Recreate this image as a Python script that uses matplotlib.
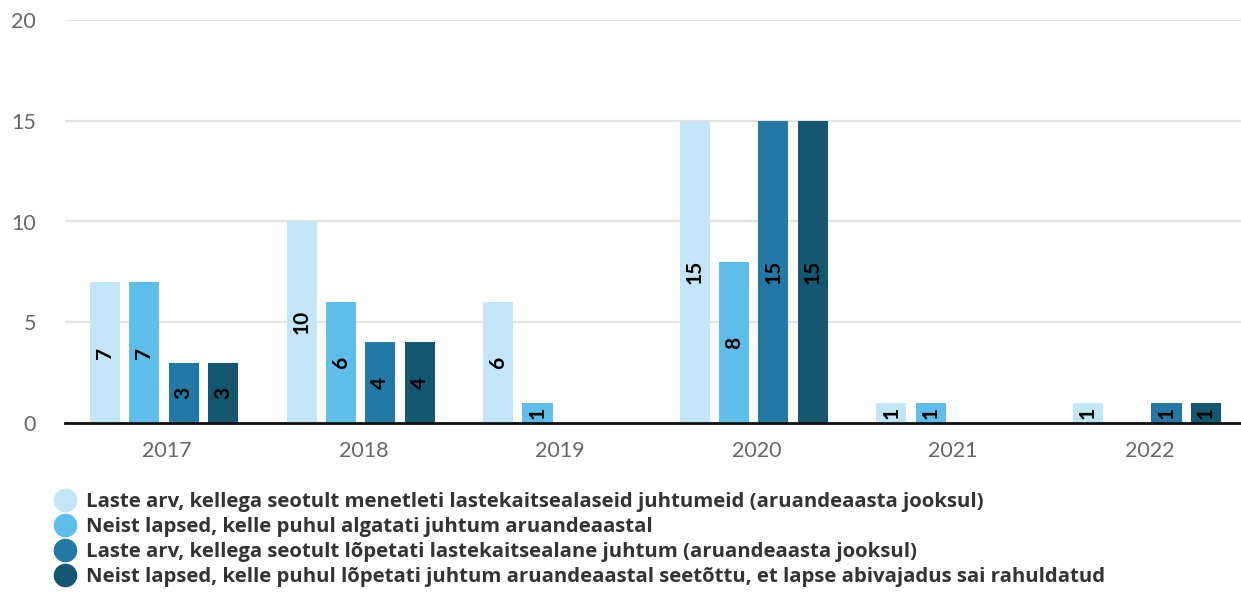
import matplotlib
matplotlib.use("Agg")
import matplotlib.pyplot as plt
from matplotlib.lines import Line2D
import numpy as np

plt.rcParams['font.family'] = ['Lato', 'DejaVu Sans']

years = ["2017", "2018", "2019", "2020", "2021", "2022"]
series_names = [
    "Laste arv, kellega seotult menetleti lastekaitsealaseid juhtumeid (aruandeaasta jooksul)",
    "Neist lapsed, kelle puhul algatati juhtum aruandeaastal",
    "Laste arv, kellega seotult lõpetati lastekaitsealane juhtum (aruandeaasta jooksul)",
    "Neist lapsed, kelle puhul lõpetati juhtum aruandeaastal seetõttu, et lapse abivajadus sai rahuldatud",
]
s1 = [7, 10, 6, 15, 1, 1]
s2 = [7, 6, 1, 8, 1, None]
s3 = [3, 4, None, 15, None, 1]
s4 = [3, 4, None, 15, None, 1]
colors = ["#c2e6f7", "#5fbde9", "#2478a6", "#155670"]
yticks = [0, 5, 10, 15, 20]

W, H = 1241, 596
fig = plt.figure(figsize=(W / 100, H / 100), dpi=100)
ax = fig.add_axes([65 / W, (H - 423) / H, (W - 65) / W, (423 - 20) / H])

x = np.arange(len(years))
offsets = [-0.3, -0.1, 0.1, 0.3]
width = 0.153
shift = -0.015
for vals, off, c in zip([s1, s2, s3, s4], offsets, colors):
    v = np.array([np.nan if a is None else a for a in vals], dtype=float)
    bars = ax.bar(x + off + shift, np.nan_to_num(v), width=width, color=c, zorder=3)
    for b, val in zip(bars, v):
        if np.isnan(val) or val == 0:
            continue
        ax.text(b.get_x() + b.get_width() / 2, val / 2, f"{int(val)}",
                rotation=90, ha="center", va="center", fontsize=15,
                fontweight="bold", color="black", zorder=4)

ax.set_xlim(-0.519, 5.464)
ax.set_ylim(0, 20)
ax.set_yticks(yticks)
ax.set_xticks(x)
ax.set_xticklabels(years)
ax.tick_params(axis="both", length=0, labelsize=15.5, labelcolor="#666666")
ax.tick_params(axis="y", pad=21)
ax.tick_params(axis="x", pad=13)
ax.grid(axis="y", color="#e3e3e3", linewidth=1.6, zorder=0)
for sp in ["top", "right", "left"]:
    ax.spines[sp].set_visible(False)
ax.spines["bottom"].set_color("#111111")
ax.spines["bottom"].set_linewidth(2)
ax.spines["bottom"].set_zorder(5)

handles = [Line2D([], [], marker="o", linestyle="none", markersize=16,
                  markerfacecolor=c, markeredgecolor=c) for c in colors]
leg = fig.legend(handles, series_names, loc="upper left",
                 bbox_to_anchor=(54 / W, (H - 492) / H), frameon=False,
                 prop={"family": ["Open Sans", "DejaVu Sans"], "size": 14.7, "weight": "bold"},
                 labelspacing=0.24, handletextpad=0.45, handlelength=1.1,
                 borderpad=0, borderaxespad=0)
for t in leg.get_texts():
    t.set_color("#333333")

fig.savefig("out.png", dpi=100)
